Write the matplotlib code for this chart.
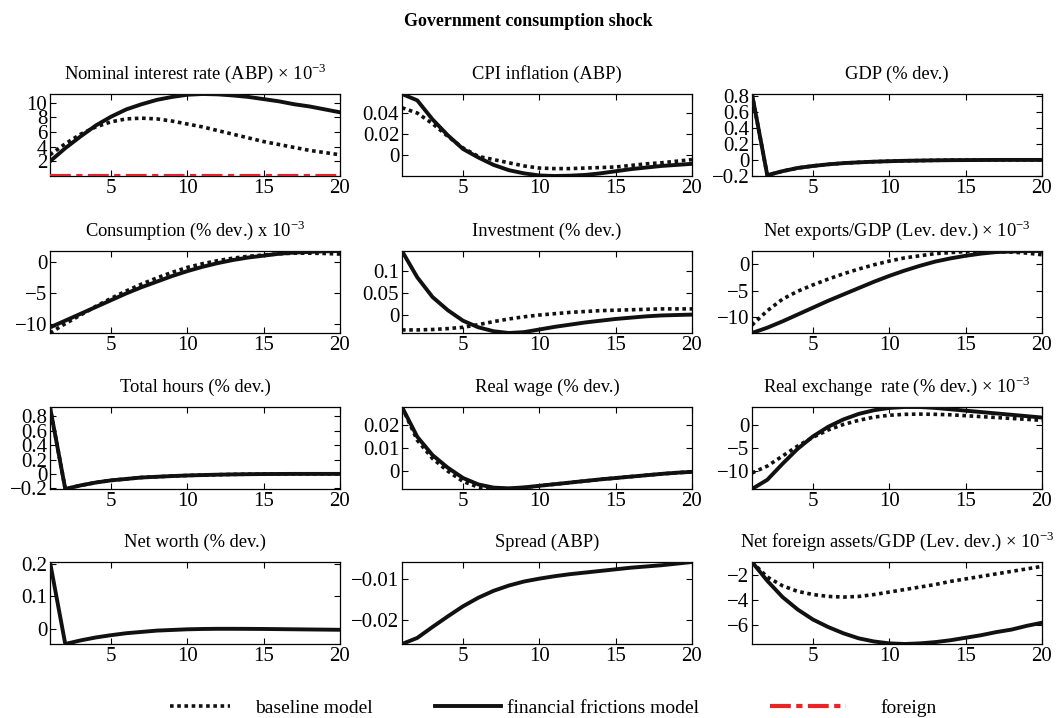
import matplotlib
matplotlib.use("Agg")
import matplotlib.pyplot as plt
from matplotlib.lines import Line2D

plt.rcParams["font.family"] = ["Liberation Serif", "DejaVu Serif"]
plt.rcParams["mathtext.fontset"] = "custom"
plt.rcParams["mathtext.rm"] = "Liberation Serif"
plt.rcParams["axes.unicode_minus"] = True

periods = list(range(1, 21))

# values per panel: (baseline, financial frictions); None = not in that model
nom_rate_base = [2.9, 4.4, 5.7, 6.7, 7.4, 7.8, 7.9, 7.8, 7.5, 7.1, 6.7, 6.2, 5.7, 5.2, 4.7, 4.3, 3.9, 3.5, 3.2, 2.9]
nom_rate_ff = [2.0, 3.8, 5.4, 6.9, 8.1, 9.1, 9.8, 10.4, 10.8, 11.1, 11.2, 11.15, 11.0, 10.8, 10.5, 10.2, 9.8, 9.5, 9.1, 8.7]
nom_rate_foreign = [0.0] * 20

cpi_base = [0.045, 0.040, 0.030, 0.018, 0.007, -0.001, -0.004, -0.007, -0.010, -0.012, -0.0125, -0.0125,
            -0.012, -0.0115, -0.011, -0.0095, -0.008, -0.007, -0.0055, -0.004]
cpi_ff = [0.058, 0.052, 0.034, 0.019, 0.006, -0.002, -0.009, -0.014, -0.017, -0.019, -0.0195, -0.0192,
          -0.0185, -0.017, -0.015, -0.013, -0.0115, -0.010, -0.009, -0.008]

gdp_ff = [0.82, -0.19, -0.14, -0.10, -0.075, -0.055, -0.04, -0.03, -0.022, -0.016, -0.011, -0.008,
          -0.005, -0.003, -0.002, -0.001, 0.0, 0.0, 0.0, 0.0]
gdp_base = gdp_ff

cons_base = [-11.5, -10.0, -8.6, -7.2, -5.9, -4.7, -3.6, -2.6, -1.7, -0.9, -0.3, 0.2, 0.6, 0.9, 1.1, 1.3,
             1.4, 1.4, 1.35, 1.25]
cons_ff = [-10.6, -9.5, -8.4, -7.3, -6.2, -5.1, -4.1, -3.2, -2.3, -1.5, -0.8, -0.2, 0.3, 0.7, 1.0, 1.3,
           1.5, 1.6, 1.7, 1.75]

inv_base = [-0.035, -0.035, -0.034, -0.032, -0.029, -0.023, -0.016, -0.010, -0.005, -0.001, 0.002, 0.005,
            0.007, 0.009, 0.010, 0.011, 0.012, 0.013, 0.013, 0.013]
inv_ff = [0.145, 0.085, 0.040, 0.010, -0.014, -0.029, -0.038, -0.042, -0.040, -0.034, -0.028, -0.023,
          -0.018, -0.014, -0.010, -0.007, -0.004, -0.002, -0.001, 0.0]

nx_base = [-11.5, -8.8, -6.6, -5.1, -3.9, -2.8, -1.8, -0.9, -0.1, 0.6, 1.2, 1.6, 2.0, 2.2, 2.4, 2.4, 2.4,
           2.3, 2.1, 1.8]
nx_ff = [-13.0, -12.0, -10.8, -9.5, -8.2, -6.9, -5.7, -4.5, -3.3, -2.2, -1.2, -0.3, 0.5, 1.1, 1.6, 2.0,
         2.3, 2.4, 2.5, 2.5]

hours_ff = [0.93, -0.21, -0.16, -0.12, -0.09, -0.07, -0.05, -0.04, -0.03, -0.022, -0.016, -0.011, -0.007,
            -0.004, -0.002, -0.001, 0.0, 0.0, 0.0, 0.0]
hours_base = hours_ff

wage_base = [0.028, 0.0135, 0.0055, 0.0, -0.0045, -0.007, -0.0078, -0.0077, -0.0072, -0.0064, -0.0057,
             -0.005, -0.0043, -0.0036, -0.003, -0.0024, -0.0018, -0.0012, -0.0007, -0.0003]
wage_ff = [0.028, 0.015, 0.007, 0.0015, -0.003, -0.0058, -0.0072, -0.0075, -0.0071, -0.0064, -0.0057,
           -0.005, -0.0043, -0.0036, -0.003, -0.0024, -0.0018, -0.0012, -0.0007, -0.0003]

rer_base = [-10.5, -9.0, -6.8, -4.6, -2.7, -1.1, 0.1, 1.0, 1.7, 2.1, 2.3, 2.35, 2.3, 2.2, 2.0, 1.8, 1.6,
            1.4, 1.2, 1.0]
rer_ff = [-14.0, -12.0, -8.5, -5.2, -2.5, -0.4, 1.2, 2.4, 3.2, 3.7, 3.9, 3.9, 3.7, 3.4, 3.1, 2.8, 2.5,
          2.2, 1.9, 1.6]

nw_ff = [0.205, -0.046, -0.035, -0.026, -0.019, -0.013, -0.009, -0.005, -0.003, -0.001, 0.0, 0.0005,
         0.0005, 0.0003, 0.0, -0.0005, -0.001, -0.0015, -0.002, -0.0025]

spread_ff = [-0.026, -0.0245, -0.0218, -0.0192, -0.0167, -0.0146, -0.0129, -0.0116, -0.0106, -0.0099,
             -0.0093, -0.0088, -0.0084, -0.0080, -0.0076, -0.0072, -0.0069, -0.0066, -0.0062, -0.0058]

nfa_base = [-1.0, -2.2, -2.9, -3.35, -3.6, -3.75, -3.8, -3.75, -3.6, -3.4, -3.2, -3.0, -2.8, -2.55, -2.35,
            -2.15, -1.95, -1.75, -1.55, -1.35]
nfa_ff = [-1.0, -2.5, -3.8, -4.8, -5.6, -6.2, -6.7, -7.1, -7.35, -7.5, -7.55, -7.5, -7.4, -7.25, -7.05,
          -6.85, -6.6, -6.4, -6.1, -5.85]

titles = [
    r"Nominal interest rate (ABP) $\times$ 10$^{-3}$",
    "CPI inflation (ABP)",
    "GDP (% dev.)",
    r"Consumption (% dev.) x 10$^{-3}$",
    "Investment (% dev.)",
    r"Net exports/GDP (Lev. dev.) $\times$ 10$^{-3}$",
    "Total hours (% dev.)",
    "Real wage (% dev.)",
    r"Real exchange  rate (% dev.) $\times$ 10$^{-3}$",
    "Net worth (% dev.)",
    "Spread (ABP)",
    r"Net foreign assets/GDP (Lev. dev.) $\times$ 10$^{-3}$",
]
panels = [
    (nom_rate_base, nom_rate_ff, nom_rate_foreign),
    (cpi_base, cpi_ff, None),
    (gdp_base, gdp_ff, None),
    (cons_base, cons_ff, None),
    (inv_base, inv_ff, None),
    (nx_base, nx_ff, None),
    (hours_base, hours_ff, None),
    (wage_base, wage_ff, None),
    (rer_base, rer_ff, None),
    (None, nw_ff, None),
    (None, spread_ff, None),
    (nfa_base, nfa_ff, None),
]
yticks = [
    [2, 4, 6, 8, 10],
    [0, 0.02, 0.04],
    [-0.2, 0, 0.2, 0.4, 0.6, 0.8],
    [-10, -5, 0],
    [0, 0.05, 0.1],
    [-10, -5, 0],
    [-0.2, 0, 0.2, 0.4, 0.6, 0.8],
    [0, 0.01, 0.02],
    [-10, -5, 0],
    [0, 0.1, 0.2],
    [-0.02, -0.01],
    [-6, -4, -2],
]
ytick_labels = [
    ["2", "4", "6", "8", "10"],
    ["0", "0.02", "0.04"],
    ["\u22120.2", "0", "0.2", "0.4", "0.6", "0.8"],
    ["\u221210", "\u22125", "0"],
    ["0", "0.05", "0.1"],
    ["\u221210", "\u22125", "0"],
    ["\u22120.2", "0", "0.2", "0.4", "0.6", "0.8"],
    ["0", "0.01", "0.02"],
    ["\u221210", "\u22125", "0"],
    ["0", "0.1", "0.2"],
    ["\u22120.02", "\u22120.01"],
    ["\u22126", "\u22124", "\u22122"],
]
legend_labels = ["baseline model", "financial frictions model", "foreign"]

fig = plt.figure(figsize=(10.56, 7.18), dpi=100)
col_left = [50, 402, 752]
row_top = [94, 251, 407, 562]
W, H = 1056, 718
aw, ah = 290, 82

ink = "#111111"
red = "#e8232a"
dotted = (0, (1.0, 1.0))
dashdot = (0, (5, 1.3, 1.5, 1.3))

for i, (base, ff, foreign) in enumerate(panels):
    r, c = divmod(i, 3)
    ax = fig.add_axes([col_left[c] / W, 1 - (row_top[r] + ah) / H, aw / W, ah / H])
    series = []
    if base is not None:
        ax.plot(periods, base, color=ink, lw=2.6, linestyle=dotted, zorder=2)
        series += base
    ax.plot(periods, ff, color=ink, lw=2.8, zorder=3)
    series += ff
    if foreign is not None:
        ax.plot(periods, foreign, color=red, lw=3.0, linestyle=dashdot, zorder=4)
        series += foreign
    ax.set_xlim(1, 20)
    ax.set_ylim(min(series), max(series))  # axis tight
    ax.set_xticks([5, 10, 15, 20])
    ax.set_yticks(yticks[i])
    ax.set_yticklabels(ytick_labels[i])
    ax.tick_params(direction="in", length=4, width=0.8, top=True, right=True, labelsize=15)
    ax.tick_params(axis="x", pad=2)
    ax.tick_params(axis="y", pad=2)
    for s in ax.spines.values():
        s.set_linewidth(0.9)
    ax.set_title(titles[i], fontsize=13.3, pad=11)

fig.text(0.5, 1 - 22 / H, "Government consumption shock", ha="center", va="center",
         fontsize=13, fontweight="bold")

# legend: three separate entries, placed like the reference
handles = [
    Line2D([], [], color=ink, lw=2.6, linestyle=dotted),
    Line2D([], [], color=ink, lw=2.8),
    Line2D([], [], color=red, lw=3.0, linestyle=dashdot),
]
starts = [170, 435, 770]
lengths = [3.1, 3.4, 3.9]
pads = [1.3, 0.3, 1.8]
for h, lab, x0, hl, tp in zip(handles, legend_labels, starts, lengths, pads):
    fig.legend([h], [lab], loc="center left", bbox_to_anchor=(x0 / W, 1 - 708 / H),
               frameon=False, fontsize=14, borderpad=0, borderaxespad=0,
               handlelength=hl, handletextpad=tp)

fig.savefig("out.png", dpi=100)
